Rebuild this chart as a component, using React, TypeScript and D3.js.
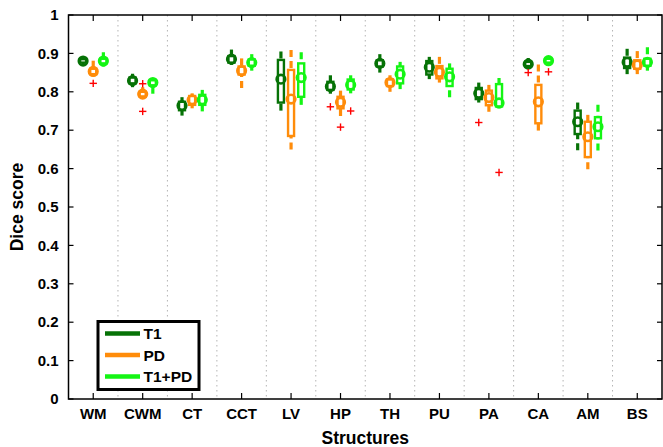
import * as d3 from 'd3';

// Box stats per structure: [lower whisker, q1, median, q3, upper whisker]
const categories = ["WM", "CWM", "CT", "CCT", "LV", "HP", "TH", "PU", "PA", "CA", "AM", "BS"];
const seriesNames = ["T1", "PD", "T1+PD"];
const seriesColors = ["#067206", "#ff8c0a", "#14f514"];

const t1Stats = [
  [0.870, 0.876, 0.880, 0.885, 0.890],
  [0.812, 0.822, 0.829, 0.837, 0.847],
  [0.738, 0.752, 0.764, 0.774, 0.786],
  [0.870, 0.876, 0.885, 0.893, 0.910],
  [0.751, 0.772, 0.833, 0.883, 0.905],
  [0.795, 0.805, 0.814, 0.826, 0.843],
  [0.850, 0.866, 0.874, 0.882, 0.898],
  [0.833, 0.845, 0.864, 0.880, 0.891],
  [0.772, 0.781, 0.796, 0.810, 0.824],
  [0.862, 0.867, 0.872, 0.878, 0.888],
  [0.648, 0.690, 0.722, 0.751, 0.772],
  [0.846, 0.862, 0.877, 0.889, 0.912],
];
const pdStats = [
  [0.840, 0.846, 0.853, 0.860, 0.881],
  [0.782, 0.788, 0.794, 0.800, 0.812],
  [0.757, 0.766, 0.779, 0.789, 0.796],
  [0.810, 0.845, 0.855, 0.866, 0.887],
  [0.650, 0.685, 0.781, 0.857, 0.909],
  [0.737, 0.757, 0.773, 0.787, 0.803],
  [0.800, 0.815, 0.824, 0.832, 0.843],
  [0.824, 0.835, 0.851, 0.867, 0.891],
  [0.748, 0.765, 0.785, 0.803, 0.818],
  [0.699, 0.718, 0.774, 0.818, 0.871],
  [0.598, 0.630, 0.683, 0.722, 0.740],
  [0.846, 0.860, 0.870, 0.882, 0.906],
];
const t1pdStats = [
  [0.866, 0.874, 0.880, 0.886, 0.903],
  [0.795, 0.817, 0.824, 0.830, 0.836],
  [0.749, 0.766, 0.779, 0.792, 0.805],
  [0.855, 0.868, 0.876, 0.884, 0.898],
  [0.766, 0.787, 0.837, 0.874, 0.903],
  [0.796, 0.806, 0.818, 0.832, 0.843],
  [0.807, 0.822, 0.846, 0.866, 0.878],
  [0.786, 0.815, 0.839, 0.860, 0.874],
  [0.757, 0.762, 0.771, 0.820, 0.836],
  [0.872, 0.876, 0.881, 0.886, 0.890],
  [0.647, 0.679, 0.709, 0.734, 0.766],
  [0.855, 0.868, 0.877, 0.886, 0.916],
];

// outliers: [category index, value]
const t1Outliers = [[5, 0.761], [8, 0.720], [9, 0.850]];
const pdOutliers = [[0, 0.822], [1, 0.821], [1, 0.749], [5, 0.708]];
const t1pdOutliers = [[5, 0.750], [8, 0.590], [9, 0.852]];

const yTicks = [0, 0.1, 0.2, 0.3, 0.4, 0.5, 0.6, 0.7, 0.8, 0.9, 1];

const allStats = [t1Stats, pdStats, t1pdStats];
const allOutliers = [t1Outliers, pdOutliers, t1pdOutliers];

export default function App() {
  const width = 663;
  const height = 447;
  const left = 68.5, right = 662, top = 15, bottom = 399;
  const font = "'Liberation Sans', Arial, sans-serif";

  const x = d3.scaleBand<string>().domain(categories).range([left, right]).padding(0);
  const y = d3.scaleLinear().domain([0, 1]).range([bottom, top]);
  const bw = x.bandwidth();
  const offsets = [-0.205 * bw, 0, 0.205 * bw];
  const cx = (ci: number, si: number) => (x(categories[ci]) as number) + bw / 2 + offsets[si];
  const boxW = 6;

  return (
    <svg width={width} height={height} style={{ position: 'absolute', left: 0, top: 0, background: '#fff' }}
      fontFamily={font}>
      {/* dotted separators */}
      {categories.slice(1).map((c) => (
        <line key={"sep" + c} x1={x(c)} x2={x(c)} y1={top} y2={bottom}
          stroke="#b4b4b4" strokeWidth={1} strokeDasharray="1.5,3.5" />
      ))}

      {/* boxes */}
      {allStats.map((stats, si) => stats.map((s, ci) => {
        const px = cx(ci, si);
        const col = seriesColors[si];
        const [lo, q1, med, q3, hi] = s;
        return (
          <g key={`b${si}-${ci}`}>
            <line x1={px} x2={px} y1={y(hi)} y2={y(q3)} stroke={col} strokeWidth={3.2}
              strokeDasharray="7,4" />
            <line x1={px} x2={px} y1={y(lo)} y2={y(q1)} stroke={col} strokeWidth={3.2}
              strokeDasharray="7,4" />
            <rect x={px - boxW / 2} y={y(q3)} width={boxW} height={Math.max(0.5, y(q1) - y(q3))}
              fill="none" stroke={col} strokeWidth={2.4} />
            <circle cx={px} cy={y(med)} r={4.3} fill="none" stroke={col} strokeWidth={2.6} />
          </g>
        );
      }))}

      {/* outliers */}
      {allOutliers.map((outs, si) => outs.map(([ci, v], k) => {
        const px = cx(ci, si);
        const py = y(v);
        return (
          <g key={`o${si}-${k}`} stroke="#ff0000" strokeWidth={1.4}>
            <line x1={px - 3.7} x2={px + 3.7} y1={py} y2={py} />
            <line x1={px} x2={px} y1={py - 3.7} y2={py + 3.7} />
          </g>
        );
      }))}

      {/* axes frame */}
      <rect x={left} y={top} width={right - left} height={bottom - top} fill="none" stroke="#000" strokeWidth={1.5} />
      {yTicks.map((t) => (
        <g key={"yt" + t}>
          <line x1={left} x2={left + 5} y1={y(t)} y2={y(t)} stroke="#000" strokeWidth={1.2} />
          <line x1={right - 5} x2={right} y1={y(t)} y2={y(t)} stroke="#000" strokeWidth={1.2} />
          <text x={left - 10} y={y(t)} dy="0.35em" textAnchor="end" fontSize={15} fontWeight="bold">
            {d3.format("")(t)}
          </text>
        </g>
      ))}
      {categories.map((c) => {
        const px = (x(c) as number) + bw / 2;
        return (
          <g key={"xt" + c}>
            <line x1={px} x2={px} y1={bottom} y2={bottom - 6} stroke="#000" strokeWidth={1.2} />
            <line x1={px} x2={px} y1={top} y2={top + 6} stroke="#000" strokeWidth={1.2} />
            <text x={px} y={419} textAnchor="middle" fontSize={15} fontWeight="bold">{c}</text>
          </g>
        );
      })}

      <text x={(left + right) / 2} y={444} textAnchor="middle" fontSize={17.5} fontWeight="bold">Structures</text>
      <text transform={`translate(23, ${(top + bottom) / 2}) rotate(-90)`} textAnchor="middle"
        fontSize={17.5} fontWeight="bold">Dice score</text>

      {/* legend */}
      <g>
        <rect x={98} y={321.5} width={101} height={68} fill="#fff" stroke="#000" strokeWidth={3} />
        {seriesNames.map((n, i) => (
          <g key={"lg" + n}>
            <line x1={105} x2={140} y1={333.5 + i * 21.5} y2={333.5 + i * 21.5}
              stroke={seriesColors[i]} strokeWidth={4.5} />
            <text x={143.5} y={333.5 + i * 21.5} dy="0.36em" fontSize={15.5} fontWeight="bold">{n}</text>
          </g>
        ))}
      </g>
    </svg>
  );
}
